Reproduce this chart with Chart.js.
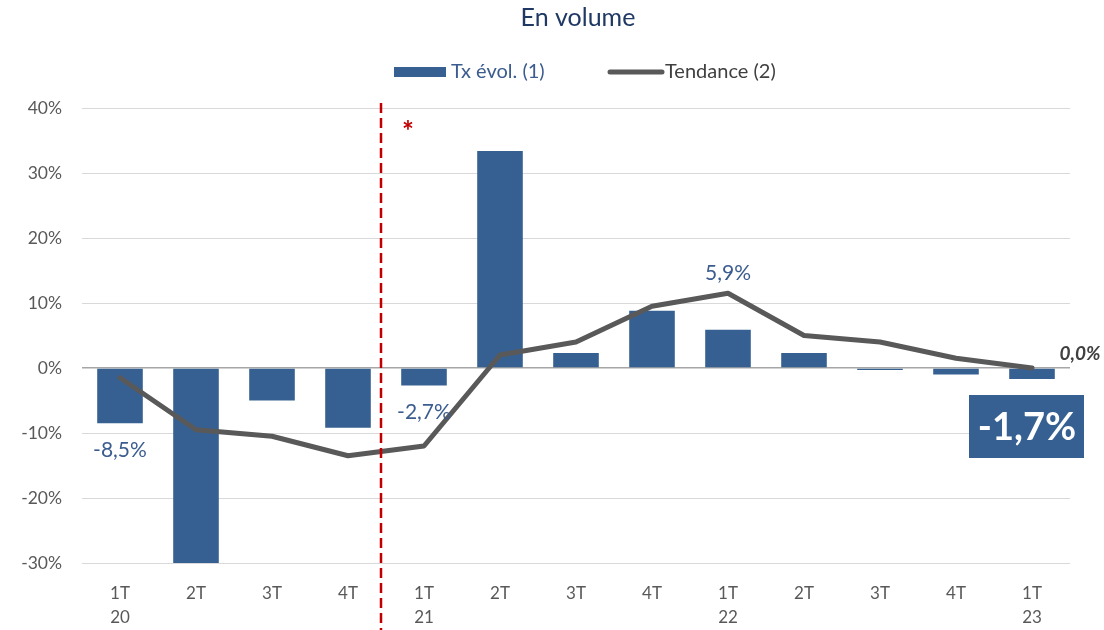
<!DOCTYPE html>
<html><head><meta charset="utf-8">
<script src="https://cdn.jsdelivr.net/npm/chart.js@4"></script>
<style>html,body{margin:0;padding:0;background:#fff}#w{width:1104px;height:630px;position:relative}</style>
</head><body><div id="w"><canvas id="c" width="1104" height="630"></canvas></div>
<script>
const quarters = [['1T','20'],['2T',''],['3T',''],['4T',''],['1T','21'],['2T',''],['3T',''],['4T',''],['1T','22'],['2T',''],['3T',''],['4T',''],['1T','23']];
const txEvol = [-8.5, -30, -5.0, -9.2, -2.7, 33.4, 2.3, 8.8, 5.9, 2.3, -0.3, -1.0, -1.7];
const tendance = [-1.5, -9.5, -10.5, -13.5, -12.0, 2.0, 4.0, 9.5, 11.5, 5.0, 4.0, 1.5, 0.0];
const yTicks = [-30, -20, -10, 0, 10, 20, 30, 40];
const seriesNames = ['Tx évol. (1)', 'Tendance (2)'];
const chartTitle = 'En volume';
const barLabels = {0: '-8,5%', 4: '-2,7%'};
const peakLabel = {index: 8, text: '5,9%'};
const lastTrendLabel = '0,0%';
const lastBarLabel = '-1,7%';

const FONT = 'Lato, "Open Sans", sans-serif';
const BLUE = '#376092';
const GREY = '#595959';

const extras = {
  id: 'extras',
  afterDatasetsDraw(chart) {
    const ctx = chart.ctx, x = chart.scales.x, y = chart.scales.y;
    ctx.save();
    // title
    ctx.fillStyle = '#1f3864';
    ctx.font = '25px ' + FONT;
    ctx.textAlign = 'center'; ctx.textBaseline = 'middle';
    ctx.fillText(chartTitle, 578, 18);
    // legend
    ctx.fillStyle = BLUE;
    ctx.fillRect(394, 67, 52, 10);
    ctx.font = '20px ' + FONT;
    ctx.textAlign = 'left';
    ctx.fillStyle = '#3b5c8f';
    ctx.fillText(seriesNames[0], 451, 72);
    ctx.strokeStyle = GREY; ctx.lineWidth = 5; ctx.lineCap = 'round';
    ctx.beginPath(); ctx.moveTo(610, 72); ctx.lineTo(662, 72); ctx.stroke();
    ctx.fillStyle = '#404040';
    ctx.fillText(seriesNames[1], 665, 72);
    // dashed separator
    const sx = (x.getPixelForValue(3) + x.getPixelForValue(4)) / 2 - 5;
    ctx.strokeStyle = '#c00000'; ctx.lineWidth = 2.5; ctx.lineCap = 'butt';
    ctx.setLineDash([10, 5]);
    ctx.beginPath(); ctx.moveTo(sx, 103); ctx.lineTo(sx, 630); ctx.stroke();
    ctx.setLineDash([]);
    ctx.fillStyle = '#c00000';
    ctx.font = 'bold 28px ' + FONT;
    ctx.textAlign = 'center';
    ctx.fillText('*', sx + 27, 132);
    // bar labels
    ctx.font = '21px ' + FONT;
    ctx.fillStyle = '#3b5c8f';
    for (const k in barLabels) {
      const i = +k;
      ctx.fillText(barLabels[i], x.getPixelForValue(i), y.getPixelForValue(txEvol[i]) + 27);
    }
    ctx.fillText(peakLabel.text, x.getPixelForValue(peakLabel.index), y.getPixelForValue(tendance[peakLabel.index]) - 20);
    // last trend label
    const li = tendance.length - 1;
    ctx.font = 'italic bold 19px ' + FONT;
    ctx.fillStyle = '#404040';
    ctx.textAlign = 'center';
    ctx.fillText(lastTrendLabel, x.getPixelForValue(li) + 48, y.getPixelForValue(tendance[li]) - 14);
    // last bar box
    const bx = x.getPixelForValue(li);
    ctx.fillStyle = BLUE;
    ctx.fillRect(bx - 63, 395, 115, 63);
    ctx.fillStyle = '#ffffff';
    ctx.font = 'bold 38px ' + FONT;
    ctx.textAlign = 'center';
    ctx.fillText(lastBarLabel, bx - 5, 428);
    ctx.restore();
  }
};

new Chart(document.getElementById('c'), {
  data: {
    labels: quarters,
    datasets: [
      {type: 'line', label: seriesNames[1], data: tendance, borderColor: GREY, borderWidth: 5,
       pointRadius: 0, tension: 0, order: 0, borderCapStyle: 'round', borderJoinStyle: 'round'},
      {type: 'bar', label: seriesNames[0], data: txEvol, backgroundColor: BLUE,
       barPercentage: 0.6, categoryPercentage: 1, order: 1}
    ]
  },
  options: {
    responsive: false, animation: false,
    layout: {padding: {top: 108, left: 0, right: 34, bottom: 0}},
    plugins: {legend: {display: false}, tooltip: {enabled: false}, title: {display: false}},
    scales: {
      x: {
        grid: {display: false, drawTicks: false},
        border: {display: false},
        ticks: {color: GREY, font: {family: FONT, size: 17, lineHeight: 1.45}, padding: 18, maxRotation: 0, autoSkip: false},
        afterFit(s) { s.height = 67; }
      },
      y: {
        min: -30, max: 40,
        afterBuildTicks(s) { s.ticks = yTicks.map(v => ({value: v})); },
        grid: {color: c => c.tick && c.tick.value === 0 ? '#a6a6a6' : '#d9d9d9', lineWidth: c => c.tick && c.tick.value === 0 ? 1.5 : 1, drawTicks: false},
        border: {display: false},
        ticks: {color: GREY, font: {family: FONT, size: 17.5}, padding: 20, callback: v => v + '%'},
        afterFit(s) { s.width = 82; }
      }
    }
  },
  plugins: [extras]
});
</script></body></html>
